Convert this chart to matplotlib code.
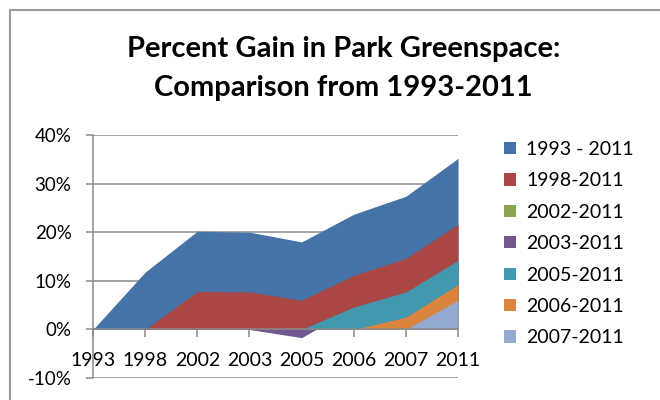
import numpy as np
import matplotlib
matplotlib.use('Agg')
import matplotlib.pyplot as plt
from matplotlib.patches import Rectangle
from matplotlib.ticker import FuncFormatter

plt.rcParams['font.family'] = ['Lato', 'DejaVu Sans']

# categories on the x axis
years = ['1993', '1998', '2002', '2003', '2005', '2006', '2007', '2011']

# percent gain per series, None = series not started yet
gain_1993 = [0, 11.8, 20.2, 20.0, 18.0, 23.7, 27.4, 35.2]
gain_1998 = [None, 0, 7.8, 7.7, 6.0, 11.1, 14.6, 21.6]
gain_2002 = [None, None, 0, 0, -1.5, 4.0, 7.0, 13.0]
gain_2003 = [None, None, None, 0, -1.7, 4.5, 7.5, 14.0]
gain_2005 = [None, None, None, None, 0, 4.6, 7.7, 14.2]
gain_2006 = [None, None, None, None, None, 0, 2.5, 9.2]
gain_2007 = [None, None, None, None, None, None, 0, 6.0]

labels = ['1993 - 2011', '1998-2011', '2002-2011', '2003-2011',
          '2005-2011', '2006-2011', '2007-2011']
colors = ['#4572A7', '#AA4643', '#89A54E', '#71588F', '#4198AF', '#DB843D', '#93A9CF']
series = [gain_1993, gain_1998, gain_2002, gain_2003, gain_2005, gain_2006, gain_2007]

fig = plt.figure(figsize=(6.6, 4.0), dpi=100)
ax = fig.add_axes([0.141, 0.055, 0.553, 0.6075])

handles = []
for vals, col, lab in zip(series, colors, labels):
    idx = [i for i, v in enumerate(vals) if v is not None]
    y = [vals[i] for i in idx]
    h = ax.fill_between(idx, 0, y, color=col, linewidth=0, label=lab)
    handles.append(h)

ax.set_xlim(0, len(years) - 1)
ax.set_ylim(-10, 40)
ax.set_yticks([-10, 0, 10, 20, 30, 40])
ax.yaxis.set_major_formatter(FuncFormatter(lambda v, p: f'{int(v)}%'))
ax.set_xticks(range(len(years)))
ax.set_xticklabels(years)

grid_col = '#8a8a8a'
ax.set_axisbelow(True)
ax.grid(axis='y', color=grid_col, linewidth=1.1)
for s in ['top', 'right']:
    ax.spines[s].set_visible(False)
ax.spines['left'].set_color(grid_col)
ax.spines['left'].set_linewidth(1.1)
ax.spines['bottom'].set_position(('data', 0))
ax.spines['bottom'].set_color(grid_col)
ax.spines['bottom'].set_linewidth(1.1)
ax.tick_params(axis='y', length=5, color=grid_col, width=1.1, labelsize=13.5, pad=10.5)
ax.tick_params(axis='x', length=6, color=grid_col, width=1.1, labelsize=14, pad=10.5)

# title, two lines
fig.text(0.52, 1 - 57 / 400, 'Percent Gain in Park Greenspace:',
         ha='center', va='baseline', fontsize=21, fontweight='bold')
fig.text(0.52, 1 - 96 / 400, 'Comparison from 1993-2011',
         ha='center', va='baseline', fontsize=21, fontweight='bold')

fig.legend(handles=handles, loc='upper left', bbox_to_anchor=(0.752, 0.667),
           frameon=False, fontsize=14, handlelength=0.6, handleheight=0.6,
           handletextpad=0.55, labelspacing=0.74, borderaxespad=0)

# chart area border
fig.add_artist(Rectangle((10 / 660, -0.1), 1.2, 0.1 + 390 / 400, transform=fig.transFigure,
                         fill=False, edgecolor='#9a9a9a', linewidth=1.5))

fig.savefig('out.png', dpi=100)
